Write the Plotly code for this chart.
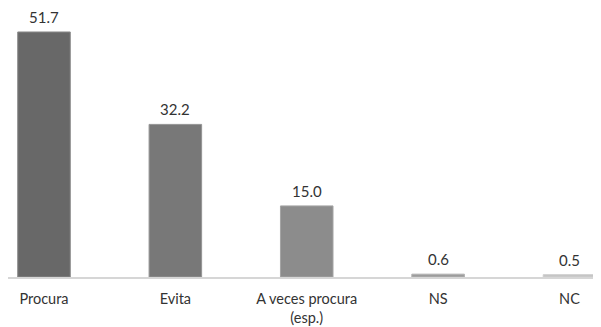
import plotly.graph_objects as go

categories = ["Procura", "Evita", "A veces procura<br>(esp.)", "NS", "NC"]
values = [51.7, 32.2, 15.0, 0.6, 0.5]
value_labels = ["51.7", "32.2", "15.0", "0.6", "0.5"]
bar_colors = ["#686868", "#787878", "#8c8c8c", "#9c9c9c", "#c4c4c4"]
line_colors = ["#8a8a8a", "#949494", "#a4a4a4", "#b0b0b0", "#d0d0d0"]

FONT = "Lato, Open Sans, sans-serif"

fig = go.Figure(go.Bar(
    x=categories, y=values, width=0.4,
    marker=dict(color=bar_colors, line=dict(color=line_colors, width=1)),
))
for c, v, t in zip(categories, values, value_labels):
    fig.add_annotation(x=c, y=v, text=t, showarrow=False, yanchor="middle",
                       yshift=15, font=dict(family=FONT, size=15, color="#333333"))
fig.update_layout(
    width=593, height=319,
    margin=dict(l=0, r=0, t=0, b=50, autoexpand=False),
    paper_bgcolor="white", plot_bgcolor="white",
    showlegend=False,
    font=dict(family=FONT, size=15, color="#333333"),
    xaxis=dict(type="category", range=[-0.274, 4.24], showgrid=False, automargin=False,
               showline=True, linecolor="#d6d6d6", linewidth=2, ticklabelstandoff=8,
               ticks="", tickfont=dict(family=FONT, size=14.5, color="#333333")),
    yaxis=dict(range=[0, 56.76], visible=False, automargin=False),
    bargap=0.6,
)
fig.write_html("out.html")
